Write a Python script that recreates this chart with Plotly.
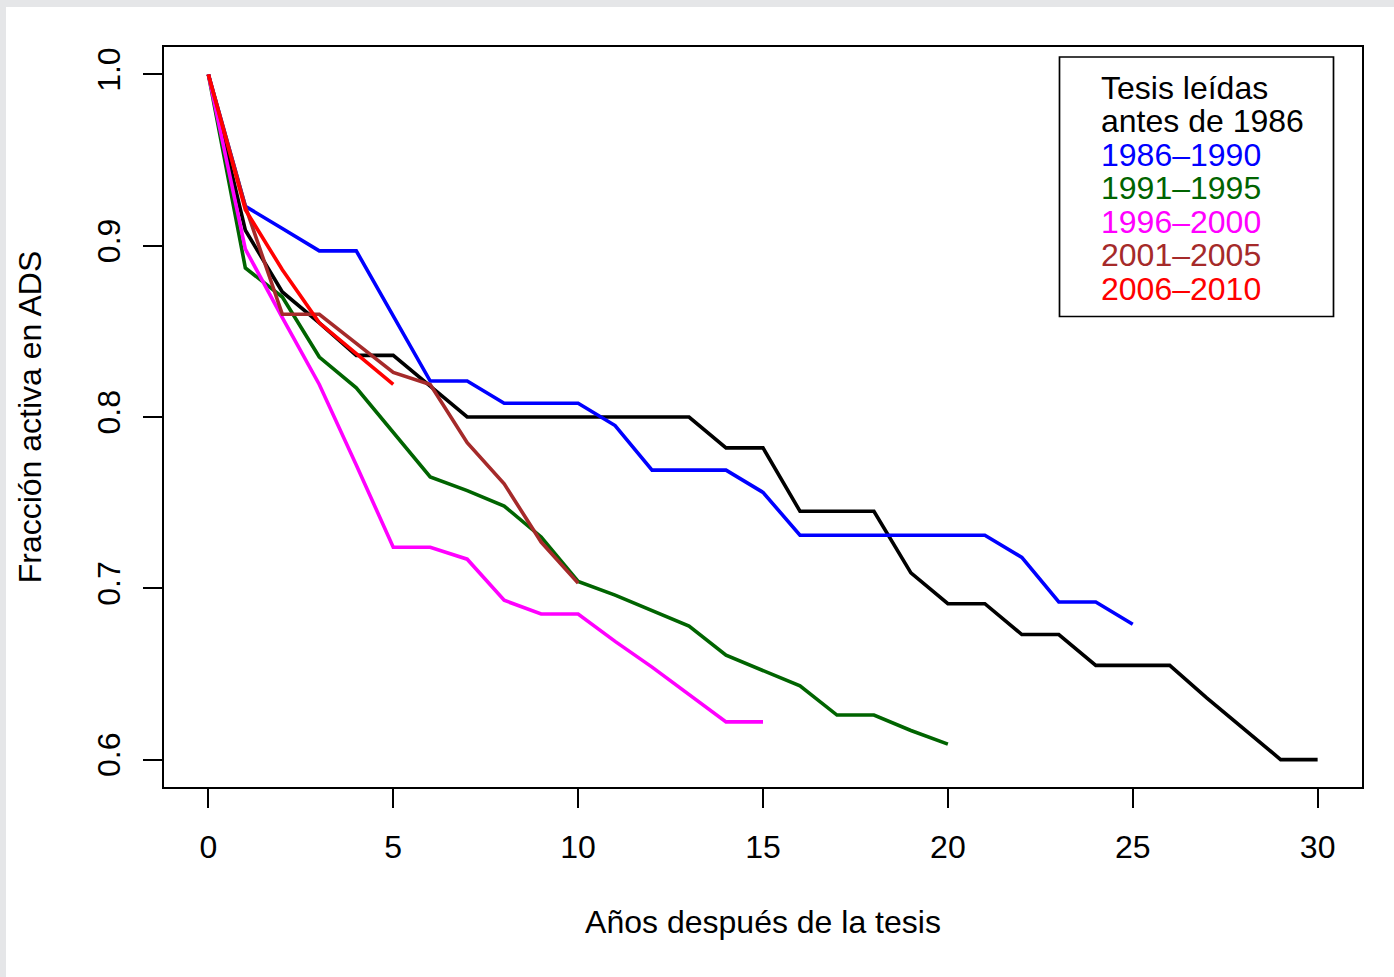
import plotly.graph_objects as go

# ---------------- data ----------------
series_names = ["Tesis leídas\nantes de 1986", "1986–1990", "1991–1995",
                "1996–2000", "2001–2005", "2006–2010"]
series_colors = ["#000000", "#0000ff", "#006400", "#ff00ff", "#a52a2a", "#ff0000"]

years_pre1986 = list(range(0, 31))
frac_pre1986 = [1.000, 0.909, 0.873, 0.855, 0.836, 0.836, 0.818, 0.800, 0.800, 0.800,
                0.800, 0.800, 0.800, 0.800, 0.782, 0.782, 0.745, 0.745, 0.745, 0.709,
                0.691, 0.691, 0.673, 0.673, 0.655, 0.655, 0.655, 0.636, 0.618, 0.600,
                0.600]

years_1986_1990 = list(range(0, 26))
frac_1986_1990 = [1.000, 0.923, 0.910, 0.897, 0.897, 0.859, 0.821, 0.821, 0.808, 0.808,
                  0.808, 0.795, 0.769, 0.769, 0.769, 0.756, 0.731, 0.731, 0.731, 0.731,
                  0.731, 0.731, 0.718, 0.692, 0.692, 0.679]

years_1991_1995 = list(range(0, 21))
frac_1991_1995 = [1.000, 0.887, 0.870, 0.835, 0.817, 0.791, 0.765, 0.757, 0.748, 0.730,
                  0.704, 0.696, 0.687, 0.678, 0.661, 0.652, 0.643, 0.626, 0.626, 0.617,
                  0.609]

years_1996_2000 = list(range(0, 16))
frac_1996_2000 = [1.000, 0.898, 0.858, 0.819, 0.772, 0.724, 0.724, 0.717, 0.693, 0.685,
                  0.685, 0.669, 0.654, 0.638, 0.622, 0.622]

years_2001_2005 = list(range(0, 11))
frac_2001_2005 = [1.000, 0.923, 0.860, 0.860, 0.843, 0.826, 0.819, 0.785, 0.761, 0.727,
                  0.703]

years_2006_2010 = list(range(0, 6))
frac_2006_2010 = [1.000, 0.921, 0.886, 0.855, 0.837, 0.819]

x_ticks = [0, 5, 10, 15, 20, 25, 30]
y_ticks = [0.6, 0.7, 0.8, 0.9, 1.0]
y_tick_labels = ["0.6", "0.7", "0.8", "0.9", "1.0"]

x_title = "Años después de la tesis"
y_title = "Fracción activa en ADS"

# ---------------- figure ----------------
W, H = 1394, 977
L, R, T, B = 164, 1362, 47, 787   # plot-area pixel box
FONT = "Liberation Sans, Arial, Helvetica, sans-serif"
FS = 32

xs = [years_pre1986, years_1986_1990, years_1991_1995, years_1996_2000,
      years_2001_2005, years_2006_2010]
ys = [frac_pre1986, frac_1986_1990, frac_1991_1995, frac_1996_2000,
      frac_2001_2005, frac_2006_2010]

fig = go.Figure()
for x, y, name, col in zip(xs, ys, series_names, series_colors):
    fig.add_trace(go.Scatter(x=x, y=y, mode="lines", name=name.replace("\n", " "),
                             line=dict(color=col, width=3.6), showlegend=False,
                             hoverinfo="x+y+name"))


def px2paper_x(px):
    return (px - L) / (R - L)


def px2paper_y(py):
    return (B - py) / (B - T)


shapes = []
# light grey screenshot border on top and left
shapes.append(dict(type="rect", xref="paper", yref="paper", layer="below",
                   x0=px2paper_x(0), x1=px2paper_x(6), y0=px2paper_y(H), y1=px2paper_y(0),
                   fillcolor="#e5e6e8", line=dict(width=0)))
shapes.append(dict(type="rect", xref="paper", yref="paper", layer="below",
                   x0=px2paper_x(0), x1=px2paper_x(W), y0=px2paper_y(7), y1=px2paper_y(0),
                   fillcolor="#e5e6e8", line=dict(width=0)))
# legend box
shapes.append(dict(type="rect", xref="paper", yref="paper",
                   x0=px2paper_x(1059.5), x1=px2paper_x(1333.5),
                   y0=px2paper_y(316.5), y1=px2paper_y(57),
                   line=dict(color="black", width=1.7), fillcolor="white"))

annotations = []
legend_lines = []
for name, col in zip(series_names, series_colors):
    for part in name.split("\n"):
        legend_lines.append((part, col))
for i, (txt, col) in enumerate(legend_lines):
    cy = 87.5 + i * 33.6
    annotations.append(dict(text=txt, xref="paper", yref="paper",
                            x=px2paper_x(1099), y=px2paper_y(cy),
                            xanchor="left", yanchor="middle", showarrow=False,
                            font=dict(family=FONT, size=FS, color=col)))

fig.update_layout(
    width=W, height=H,
    margin=dict(l=L, r=W - R, t=T, b=H - B, pad=0),
    paper_bgcolor="white", plot_bgcolor="white",
    font=dict(family=FONT, size=FS, color="black"),
    shapes=shapes, annotations=annotations,
    xaxis=dict(range=[-1.2, 31.2], tickvals=x_ticks, ticks="outside", ticklen=19,
               tickwidth=1.7, tickcolor="black", showgrid=False, zeroline=False,
               showline=True, linecolor="black", linewidth=1.7, mirror=True,
               tickfont=dict(family=FONT, size=FS), ticklabelstandoff=12,
               title=dict(text=x_title, font=dict(family=FONT, size=FS), standoff=46),
               automargin=False),
    yaxis=dict(range=[0.584, 1.016], tickvals=y_ticks, ticktext=y_tick_labels,
               tickangle=-90, ticks="outside", ticklen=19,
               tickwidth=1.7, tickcolor="black", showgrid=False, zeroline=False,
               showline=True, linecolor="black", linewidth=1.7, mirror=True,
               tickfont=dict(family=FONT, size=FS), ticklabelstandoff=10,
               title=dict(text=y_title, font=dict(family=FONT, size=FS), standoff=40),
               automargin=False),
)

fig.write_html("out.html", config={"displayModeBar": False},
               post_script="document.body.style.margin='0';document.body.style.overflow='hidden';")
